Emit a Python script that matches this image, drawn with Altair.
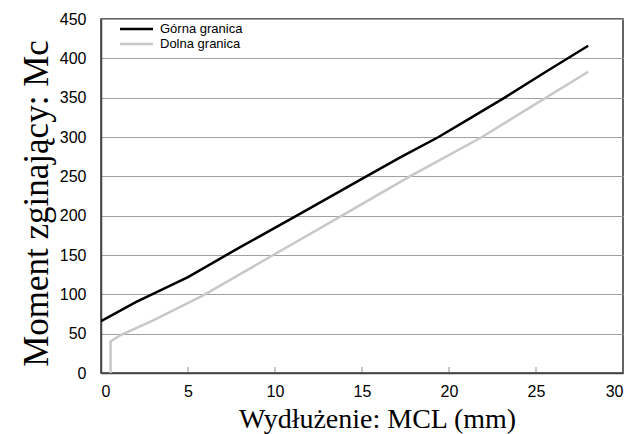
import altair as alt
import pandas as pd

# Series data
upper_x = [0, 2, 5, 8, 11.25, 15.25, 17.2, 19.4, 21.3, 23.2, 25.5, 28]
upper_y = [66, 90, 122, 160, 200, 250, 274, 300, 325, 350, 382, 416]
lower_x = [0.55, 0.55, 1.1, 3, 5.9, 7.4, 9.9, 13.85, 17.75, 21.9, 24.1, 28]
lower_y = [0, 40, 48, 67, 99, 118, 150, 200, 250, 300, 330, 383]
series_names = ["Górna granica", "Dolna granica"]
series_colors = ["#000000", "#c8c8c8"]
x_ticks = [0, 5, 10, 15, 20, 25, 30]
y_ticks = [0, 50, 100, 150, 200, 250, 300, 350, 400, 450]
inner_ticks = [5, 10, 15, 20, 25]

rows = []
for i, (xv, yv) in enumerate(zip(upper_x, upper_y)):
    rows.append({"x": xv, "y": yv, "series": series_names[0], "idx": i})
for i, (xv, yv) in enumerate(zip(lower_x, lower_y)):
    rows.append({"x": xv, "y": yv, "series": series_names[1], "idx": i})
df = pd.DataFrame(rows)

xscale = alt.Scale(domain=[0, 30], nice=False, zero=False)
yscale = alt.Scale(domain=[0, 450], nice=False)

lines = alt.Chart(df).mark_line(strokeWidth=2.5, clip=True).encode(
    x=alt.X("x:Q", scale=xscale, axis=alt.Axis(
        values=x_ticks, title="Wydłużenie: MCL (mm)", grid=False, ticks=False,
        labelPadding=10, titleX=276, titleY=54, titleBaseline="alphabetic",
        titleFontSize=28, titleFont="Liberation Serif")),
    y=alt.Y("y:Q", scale=yscale, axis=alt.Axis(
        values=y_ticks, title="Moment zginający: Mc", grid=True, ticks=False,
        labelPadding=15, titleX=-54, titleY=184, titleBaseline="alphabetic",
        titleAngle=270, titleAlign="center",
        titleFontSize=35, titleFont="Liberation Serif")),
    color=alt.Color("series:N", scale=alt.Scale(domain=series_names, range=series_colors),
                    legend=None),
    order="idx:Q",
)

ticks = alt.Chart(pd.DataFrame({"x": inner_ticks})).mark_tick(
    size=6, thickness=1, color="#666").encode(
    x=alt.X("x:Q", scale=xscale),
    y=alt.value(351),
)

# Manual legend (inside top-left of the plot)
legend_layers = []
for i, (name, col) in enumerate(zip(series_names, series_colors)):
    ldf = pd.DataFrame({"label": [name]})
    ypos = 10 + 15 * i
    legend_layers.append(
        alt.Chart(ldf).mark_rule(strokeWidth=2.5, color=col).encode(
            x=alt.value(19), x2=alt.value(52), y=alt.value(ypos))
    )
    legend_layers.append(
        alt.Chart(ldf).mark_text(align="left", baseline="middle", font="Liberation Sans",
                                 fontSize=13, color="#000").encode(
            x=alt.value(59), y=alt.value(ypos), text="label:N")
    )

chart = alt.layer(lines, ticks, *legend_layers).properties(
    width=522, height=354,
    padding={"left": 101, "top": 19, "right": 12, "bottom": 61},
    autosize=alt.AutoSizeParams(type="none"),
).configure_view(
    stroke="#333", strokeWidth=1.5
).configure_axis(
    labelFont="Liberation Sans", labelFontSize=16, labelColor="#000",
    domainColor="#444", domainWidth=1.5, gridColor="#a0a0a0", gridWidth=1,
    titleFontWeight="normal", titleColor="#000",
)

chart.save("out.html", embed_options={"renderer": "svg", "actions": False})
